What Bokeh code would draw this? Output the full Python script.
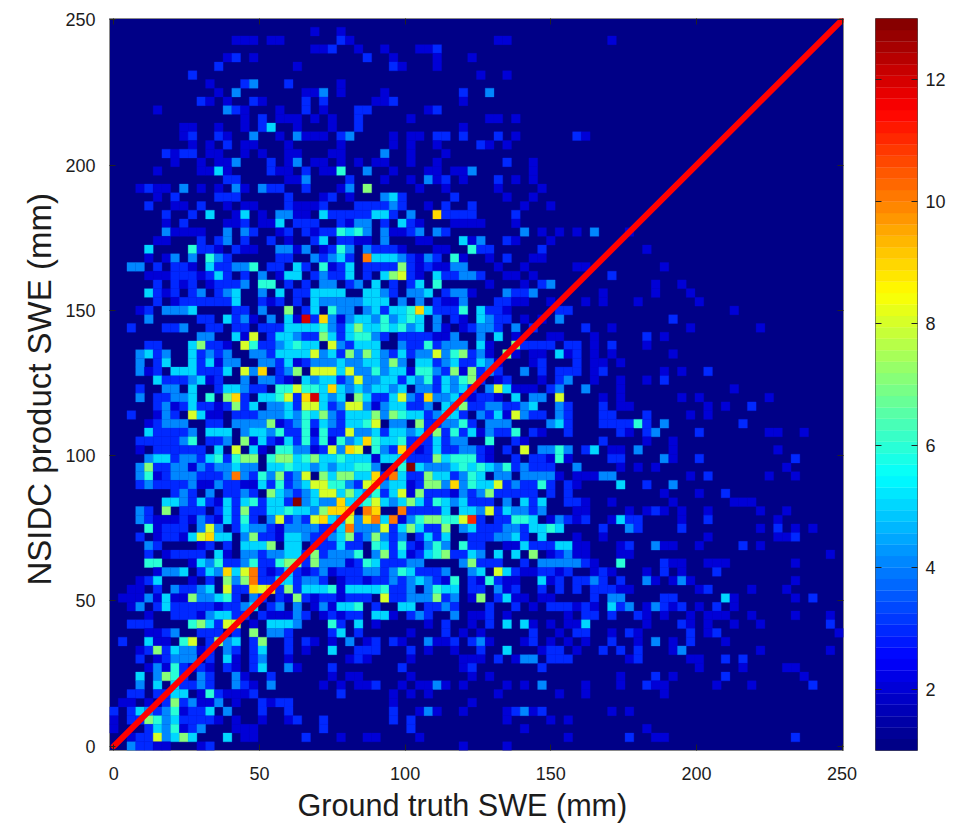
from bokeh.embed import file_html
from bokeh.layouts import row
from bokeh.models import ColumnDataSource, FixedTicker, LinearAxis, LinearColorMapper, Range1d, Title
from bokeh.plotting import figure
from bokeh.resources import INLINE

X_TICKS = [0, 50, 100, 150, 200, 250]
Y_TICKS = [0, 50, 100, 150, 200, 250]
CBAR_TICKS = [2, 4, 6, 8, 10, 12]
X_LABEL = "Ground truth SWE (mm)"
Y_LABEL = "NSIDC product SWE (mm)"
BIN_MM = 3
COUNT_MIN = 1
COUNT_MAX = 13
LINE_X = [0, 250]
LINE_Y = [0, 250]

# Histogram counts, top row first. Each token is "first_column:counts" with hex digits;
# cells that are not listed hold the lowest colour.
ROW_CELLS = [
    "",
    "23:2 26:2",
    "14:222 18:22 26:32 44:22 57:2",
    "23:223 28:2 31:2 35:223",
    "13:23 16:2 29:3 32:2 37:2 41:2",
    "12:3 21:2 32:3 33:2 37:2",
    "9:3 42:2 45:2",
    "11:2 15:34 20:3 26:2",
    "12:2 14:4 22:22 24:4 26:2 31:2 40:3 43:4",
    "10:32 13:2 16:32 22:3 24:3 30:223 40:2",
    "5:2 13:432 19:2 22:3 24:2 28:33 36:23",
    "15:2 17:3 19:222 23:2 25:2 28:3 34:2 43:22 46:2",
    "8:22 12:2 15:2 17:35 21:2 25:2 28:3 40:2",
    "8:23 12:32 16:4 19:2 21:4222 26:34 32:2 34:22 37:33 40:3 44:3 46:2 53:32",
    "9:2 11:2 13:3 15:22 20:2 26:2 32:2 34:2 37:2 42:32 45:2",
    "6:3233 11:22 15:2 17:2 20:22 25:22 31:4 34:2 38:2",
    "7:2 10:2 12:22 14:4 18:3 20:24 23:22 26:2 28:2 30:22 34:2 37:2 45:3 48:2",
    "5:2 10:2252 18:322 22:3 24:22 26:6 29:4 32:2 36:22 39:224 48:2",
    "13:33 20:224 27:3 31:2 34:2 36:423 40:2 44:3 46:2 48:2",
    "3:2322 8:4 10:2 12:2 14:42 17:433 22:3 26:24 29:7 35:2 38:2 44:2 49:2",
    "5:2 7:3 12:333 20:3 24:23 27:2 31:45 33:3 39:3 45:2 48:2",
    "4:3 7:22 10:3 13:2 15:22 20:3222 24:3 28:333 31:34 33:3 36:2 38:3 41:3 47:2 50:2",
    "6:3 9:3 11:5 14:25 17:2 19:44 21:22 24:5 25:33333 30:55 32:3 34:4 37:93333 46:3",
    "6:2 8:3 13:223 17:22 19:5 21:333 26:32 28:44 31:3 33:532 39:2222 46:2",
    "6:42222 13:4 15:43 19:23 22:32 24:33 26:6564 31:42 33:234 37:43 47:4 49:2 51:2 53:2 55:4 59:2",
    "5:22 10:3 12:34 15:3 18:3 20:2 23:3 24:5 26:33 28:22 31:4 35:22 40:524 45:32 50:2",
    "4:5 9:633 12:2 14:322 19:442 22:4 24:236 27:4 29:4333 33:2 37:22 41:633 49:3 61:2",
    "4:2 6:24 9:4 11:643 19:33 23:43453 29:a555 33:43243 39:62 43:2 45:3 48:22",
    "2:44 5:3 7:33 9:2 11:533 14:44 16:6 18:33 21:53 24:623 27:5 29:3333 33:732322 39:44 44:2 47:2 53:22 63:2",
    "4:222333 10:235 13:3 15:3 17:4 19:2 20:55 23:343 26:3 27:5 29:3 31:57 33:832 37:533 40:443 45:22 48:2 57:3",
    "5:3 7:323 11:2333 15:4 17:66 20:3 22:3 24:44 27:34 30:5 32:3 34:35 37:6 43:2 47:2 49:34 62:2 65:2",
    "4:532 7:3 9:34 12:345 17:4 19:5 21:33 23:5555 29:5543 34:445 38:344 41:2 45:4 46:33 48:4 56:2 62:2 66:2",
    "5:3 7:2333333 14:5 17:3 18:23 21:3 23:54444 28:4555 33:414 37:322 40:4 44:3322 50:2 54:2 56:2 60:2 67:2",
    "3:23 6:4445 14:33 17:4 20:7 22:35 25:644 28:14535 33:5695 37:333 40:6 42:5332 51:33 71:2",
    "4:4 10:33 13:534 16:2 18:4 20:52c3942455464 33:565 37:4 39:32 42:5433 47:2 49:2 51:4 64:3",
    "2:3 6:334 11:33 14:33 17:333 20:5555 24:643575565 33:645 37:42 40:23443 46:4 48:3 54:3 57:2 66:2 74:2",
    "10:44 14:52 16:8 18:35543375356643 33:3333224 42:4 44:5 46:2 50:22 55:2 61:3 63:2",
    "4:33 9:57 11:33 13:2 15:86 17:33456551843555 33:43363444 42:52 46:73333 52:33 55:2 57:3 61:2",
    "3:4534 9:53434 16:44355558453747543 33:53448467342 45:72 48:22 51:5 52:23 55:2 57:2 64:2",
    "3:4 5:35 9:535244 17:4435234445445547 33:415534533542 48:23 53:3 55:22 58:2",
    "3:423 7:5553335 15:849134718885844645 33:526643727343 47:4 49:3 51:333 55:23 63:2 65:2 68:3",
    "5:53334523 15:4 17:4432 22:54553484455 33:3546354673 44:23 49:2 51:34 55:2 58:2 61:2 63:3",
    "3:3 6:44 9:5 12:355433 19:66866595454554 33:514435453 43:485222 50:34 54:4 58:2 71:2",
    "3:4 5:33445 11:6 13:7931556839c545175335 33:843944532332 46:5 48:44 51:8 56:2 58:2 65:2 67:2 75:2",
    "5:342353323735 18:445388534884245 33:5334154733443345 51:43 56:3 58:22 68:2 70:2 73:3",
    "2:3 5:243 9:85 11:22 14:3334445465743555747 33:65534553143528433 51:43 56:33 61:3 66:2 68:2",
    "4:23444 11:33 14:4444723463543556814 33:417334463 43:444 50:453 56:333363 63:4 72:3",
    "4:533334 11:555 15:455463362633844535 33:54537363524336 48:32 52:3 58:32 61:3 62:4 67:3 75:22 79:2",
    "3:3333346 11:334 15:725325363626459655 33:63335344 43:6 46:32 56:3 61:2 64:2",
    "3:2 5:333333 12:5 14:8 16:52 19:66442384981643 33:93235334432 45:3 47:8 49:4464 54:35 57:22 60:4 64:2 76:2",
    "4:45534435636771677567556555255 33:53337566632 46:3 48:332 51:6 52:2 57:33 63:4 64:2 67:3 78:3",
    "3:47334424344544 18:5565545455664 33:6d5444565654634333 53:4 58:2 60:2 62:2 77:2",
    "3:4623444333 13:4a43647348 23:175775593a 33:5337553465144 47:4444 51:2 53:22244 66:2 68:3 75:2 78:2",
    "3:3433334224 13:3322536345 23:8866438945 33:523774946558343363 52:32 58:5 61:3 64:4",
    "7:343 11:4 13:3343175434 23:5885754635 33:8273332434733333 50:3 52:3 63:2 67:2 70:3",
    "6:5543532535 16:63553d4544 26:9556854 33:57536545333 45:4 47:535 52:332 57:2 64:2 71:222",
    "3:43 6:7 8:333 12:3537335565547999 29:a9 33:a33335 40:5548354434 53:22 59:2 61:232 65:2 68:2 74:2 77:2",
    "3:4322232432 13:5363148343 23:8954849a5a 33:24677668b3 44:33 46:665 50:2 51:4323 57:2533 65:2 68:3 76:2",
    "4:62333 10:484 14:3544324444335a44483 33:575337 40:453334435565 56:3 59:43 65:3 74:2 76:3 78:2 80:2",
    "3:3 5:233258955 15:47 17:332 20:5543345734743 33:4 35:353 38:5 41:333 44:4453 49:5 53:2 56:2 68:2 76:22 78:3",
    "4:43 10:23 13:3 15:5557 20:55 23:333533 30:653 33:632464 40:633 45:2253335522 58:23 62:422 67:2 72:3 74:2",
    "4:3 6:23333 12:52 15:443445537344461473 33:5235673354 44:5 46:5 48:7 50:23422 58:22 82:2",
    "4:66 9:254633463367737444236533 33:344 40:47333 47:3 49:4444432 58:6 63:322 68:222 78:2",
    "5:2445 10:354958a3235323423334434 33:653334 41:45 44:853223323 55:232 61:2 63:3 65:2 69:3",
    "3:235 9:2 11:3 13:747a33553443 26:2332334 33:3454326 41:32 43:6322 49:523 53:3343 58:3 61:42 64:242 78:2",
    "2:22 5:3 7:43345 13:83398937355562555563 33:3414655 41:33 44:423 49:3 51:3 53:3 55:33322 67:23 73:2 77:2",
    "1:22242522744563 16:43 19:32732332333 31:83 33:3444734 41:27 44:3522 49:22 55:3 57:44 63:33 70:52 78:2 80:3",
    "2:24 5:353333323345 18:34 21:4 23:242556 30:3 33:55 36:3343 43:3 46:3 48:2 50:333232 57:534 61:2 62:4323 67:2 69:3 71:2",
    "4:2 7:333245533 17:322243 24:23233 30:552 34:343 39:4 41:223 45:2 52:2 54:33 57:3 60:32 63:2 66:2 68:222 73:2 78:2 82:2",
    "2:333 9:675388 16:2 18:5554 25:63 28:5 30:2 36:2 38:3 41:2 43:3 45:5 47:52 50:2 52:225 61:2 65:32 68:2 71:2 74:2 82:3",
    "4:2234 10:333 14:3 16:7 18:443 25:35 28:3 34:2 38:3 40:2 42:2 48:3 51:2 53:33 57:2 59:32 66:3 68:23 83:2",
    "1:3 4:522 8:68 11:3745 16:3 17:7 20:3 22:32 25:2 27:4 29:23 32:3 33:2 36:422 39:3 41:342 47:23 50:2 52:2 54:2 57:3 60:2 62:4 64:2 66:3 70:2",
    "3:237354423 13:43 16:35 20:3 22:2 25:5 28:333 34:3 36:2 39:2 42:3 45:5 49:233 53:2 56:3 58:3 60:3 64:24 74:2 82:2",
    "3:3 5:23444 11:3 13:52 16:34 20:2 27:232 34:2 40:222 44:3 46:244 50:333 59:23 66:22 70:3 72:3",
    "4:24263232 13:32 16:35 20:42 25:3 33:3 40:23 49:3 67:2 72:2 77:22",
    "3:5 5:476 8:3 10:43 14:42 18:3 25:2 27:22 34:2 41:2 43:2 58:2 62:3 64:2 70:3 79:2",
    "3:4 5:5 7:53343 14:432 18:4 24:2 26:2 28:223 33:2 35:2242 40:2 45:2 47:2 49:4 54:2 58:2 61:3 62:22 69:2 73:2 80:3",
    "2:33 5:3355 10:2632223 26:3 32:2 34:2 36:2 44:2 51:2 54:2 63:2",
    "1:22 4:2 6:3734224 14:2 17:32 19:33 32:2 41:2",
    "0:3 2:3543462335 13:4 17:3 20:3 32:3 35:242 40:2 45:23423 57:2 59:2",
    "0:2 2:33764533332 14:2 17:2 20:23 24:3 32:3 34:3 45:2 50:2 52:2",
    "0:2 4:3546234 14:222 24:3 34:3 47:2 61:2",
    "2:23384575 13:5 15:22 22:3 26:2 29:22 35:2 52:2 59:3 62:22 78:3",
    "2:43322 10:23 40:2 45:2",
]


def jet(i, n=64):
    f = (i + 0.5) / n
    ch = lambda c: max(0.0, min(1.0, 1.5 - abs(4 * f - c)))
    return "#%02x%02x%02x" % tuple(round(255 * ch(c)) for c in (3, 2, 1))


PALETTE = [jet(i) for i in range(64)]
mapper = LinearColorMapper(palette=PALETTE, low=COUNT_MIN, high=COUNT_MAX)

xs, ys, counts = [], [], []
for r, text in enumerate(ROW_CELLS):
    for token in text.split():
        start, digits = token.split(":")
        for k, ch in enumerate(digits):
            v = int(ch, 16)
            if v > COUNT_MIN:
                xs.append((int(start) + k) * BIN_MM)
                ys.append((len(ROW_CELLS) - 1 - r) * BIN_MM)
                counts.append(v)

FONT = "Liberation Sans"
INK = "#1c1c1c"
FRAME = "#8a8a8a"


def style_axis(ax, labelled):
    ax.axis_line_color = None
    ax.minor_tick_line_color = None
    ax.major_tick_in = 6
    ax.major_tick_out = 0
    ax.major_tick_line_color = "#222222"
    ax.major_tick_line_width = 1
    ax.major_label_text_font = FONT
    ax.major_label_text_font_size = "18px"
    ax.major_label_text_color = INK
    if not labelled:
        ax.major_label_text_color = None
        ax.major_label_text_font_size = "1px"
        ax.major_label_standoff = 0


p = figure(
    width=875, height=821,
    frame_width=734, frame_height=732,
    x_range=Range1d(-1.5, 250.5), y_range=Range1d(-1.5, 250.5),
    min_border_left=109, min_border_right=32, min_border_top=18, min_border_bottom=71,
    toolbar_location=None, output_backend="svg", tools="",
)
p.background_fill_color = PALETTE[0]
p.border_fill_color = "white"
p.outline_line_color = FRAME
p.outline_line_width = 1
p.grid.visible = False

src = ColumnDataSource(dict(x=xs, y=ys, count=counts))
fill = {"field": "count", "transform": mapper}
p.rect("x", "y", width=BIN_MM, height=BIN_MM, source=src,
       fill_color=fill, line_color=fill, line_width=0.3)
p.line(LINE_X, LINE_Y, line_color="#ff0000", line_width=6, line_cap="round")

p.xaxis.ticker = FixedTicker(ticks=X_TICKS)
p.yaxis.ticker = FixedTicker(ticks=Y_TICKS)
for ax in p.xaxis + p.yaxis:
    style_axis(ax, True)
p.xaxis.major_label_standoff = 16
p.yaxis.major_label_standoff = 14

p.add_layout(Title(text=X_LABEL, align="left", offset=188, standoff=7,
                   text_font=FONT, text_font_size="30.6px", text_font_style="normal",
                   text_color=INK), "below")
p.add_layout(Title(text=Y_LABEL, align="left", offset=165, standoff=10,
                   text_font=FONT, text_font_size="33px", text_font_style="normal",
                   text_color=INK), "left")

top = LinearAxis(ticker=FixedTicker(ticks=X_TICKS))
right = LinearAxis(ticker=FixedTicker(ticks=Y_TICKS))
style_axis(top, False)
style_axis(right, False)
p.add_layout(top, "above")
p.add_layout(right, "right")

band_edges = [COUNT_MIN + i * (COUNT_MAX - COUNT_MIN) / len(PALETTE) for i in range(len(PALETTE) + 1)]
c = figure(
    width=76, height=821,
    frame_width=42, frame_height=732,
    x_range=Range1d(0, 1), y_range=Range1d(COUNT_MIN, COUNT_MAX),
    min_border_left=0, min_border_right=34, min_border_top=18, min_border_bottom=71,
    toolbar_location=None, output_backend="svg", tools="",
    x_axis_location=None, y_axis_location="right",
)
c.grid.visible = False
c.outline_line_color = "#555555"
c.outline_line_width = 1
c.quad(left=0, right=1, bottom=band_edges[:-1], top=band_edges[1:], fill_color=PALETTE,
       line_color=PALETTE, line_width=0.3)
c.yaxis.ticker = FixedTicker(ticks=CBAR_TICKS)
for ax in c.yaxis:
    style_axis(ax, True)
    ax.major_label_standoff = 8
c_left = LinearAxis(ticker=FixedTicker(ticks=CBAR_TICKS))
style_axis(c_left, False)
c.add_layout(c_left, "left")

page = row(p, c)
open("out.html", "w").write(file_html(page, INLINE))
